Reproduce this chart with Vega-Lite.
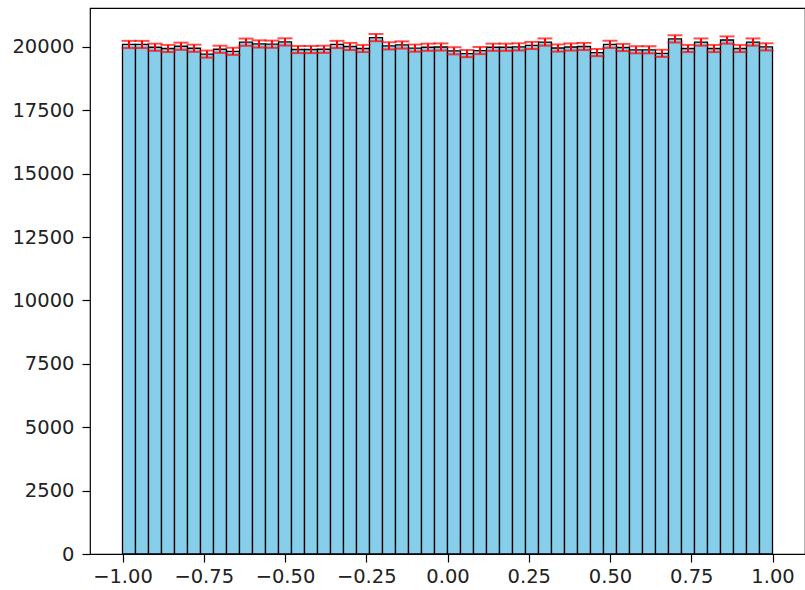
{
  "$schema": "https://vega.github.io/schema/vega-lite/v6.json",
  "width": 715,
  "height": 546,
  "autosize": {"type": "none"},
  "padding": {"left": 90, "top": 8, "right": 0, "bottom": 36},
  "background": "white",
  "config": {
    "view": {"stroke": "black", "strokeWidth": 1.2},
    "axis": {
      "domain": false,
      "grid": false,
      "tickColor": "black",
      "tickSize": 8,
      "tickWidth": 1.2,
      "labelFont": "DejaVu Sans",
      "labelFontSize": 19.5,
      "labelColor": "#222"
    }
  },
  "data": {
    "values": [
      {"bin_start": -1.00, "bin_end": -0.96, "center": -0.98, "count": 20100, "err": 141.8},
      {"bin_start": -0.96, "bin_end": -0.92, "center": -0.94, "count": 20100, "err": 141.8},
      {"bin_start": -0.92, "bin_end": -0.88, "center": -0.90, "count": 19990, "err": 141.4},
      {"bin_start": -0.88, "bin_end": -0.84, "center": -0.86, "count": 19940, "err": 141.2},
      {"bin_start": -0.84, "bin_end": -0.80, "center": -0.82, "count": 20030, "err": 141.5},
      {"bin_start": -0.80, "bin_end": -0.76, "center": -0.78, "count": 19950, "err": 141.2},
      {"bin_start": -0.76, "bin_end": -0.72, "center": -0.74, "count": 19720, "err": 140.4},
      {"bin_start": -0.72, "bin_end": -0.68, "center": -0.70, "count": 19910, "err": 141.1},
      {"bin_start": -0.68, "bin_end": -0.64, "center": -0.66, "count": 19830, "err": 140.8},
      {"bin_start": -0.64, "bin_end": -0.60, "center": -0.62, "count": 20190, "err": 142.1},
      {"bin_start": -0.60, "bin_end": -0.56, "center": -0.58, "count": 20120, "err": 141.8},
      {"bin_start": -0.56, "bin_end": -0.52, "center": -0.54, "count": 20110, "err": 141.8},
      {"bin_start": -0.52, "bin_end": -0.48, "center": -0.50, "count": 20200, "err": 142.1},
      {"bin_start": -0.48, "bin_end": -0.44, "center": -0.46, "count": 19900, "err": 141.1},
      {"bin_start": -0.44, "bin_end": -0.40, "center": -0.42, "count": 19900, "err": 141.1},
      {"bin_start": -0.40, "bin_end": -0.36, "center": -0.38, "count": 19910, "err": 141.1},
      {"bin_start": -0.36, "bin_end": -0.32, "center": -0.34, "count": 20100, "err": 141.8},
      {"bin_start": -0.32, "bin_end": -0.28, "center": -0.30, "count": 20020, "err": 141.5},
      {"bin_start": -0.28, "bin_end": -0.24, "center": -0.26, "count": 19940, "err": 141.2},
      {"bin_start": -0.24, "bin_end": -0.20, "center": -0.22, "count": 20370, "err": 142.7},
      {"bin_start": -0.20, "bin_end": -0.16, "center": -0.18, "count": 20045, "err": 141.6},
      {"bin_start": -0.16, "bin_end": -0.12, "center": -0.14, "count": 20080, "err": 141.7},
      {"bin_start": -0.12, "bin_end": -0.08, "center": -0.10, "count": 19955, "err": 141.3},
      {"bin_start": -0.08, "bin_end": -0.04, "center": -0.06, "count": 19990, "err": 141.4},
      {"bin_start": -0.04, "bin_end": 0.00, "center": -0.02, "count": 20000, "err": 141.4},
      {"bin_start": 0.00, "bin_end": 0.04, "center": 0.02, "count": 19850, "err": 140.9},
      {"bin_start": 0.04, "bin_end": 0.08, "center": 0.06, "count": 19740, "err": 140.5},
      {"bin_start": 0.08, "bin_end": 0.12, "center": 0.10, "count": 19860, "err": 140.9},
      {"bin_start": 0.12, "bin_end": 0.16, "center": 0.14, "count": 19990, "err": 141.4},
      {"bin_start": 0.16, "bin_end": 0.20, "center": 0.18, "count": 19990, "err": 141.4},
      {"bin_start": 0.20, "bin_end": 0.24, "center": 0.22, "count": 20005, "err": 141.4},
      {"bin_start": 0.24, "bin_end": 0.28, "center": 0.26, "count": 20060, "err": 141.6},
      {"bin_start": 0.28, "bin_end": 0.32, "center": 0.30, "count": 20195, "err": 142.1},
      {"bin_start": 0.32, "bin_end": 0.36, "center": 0.34, "count": 19960, "err": 141.3},
      {"bin_start": 0.36, "bin_end": 0.40, "center": 0.38, "count": 20000, "err": 141.4},
      {"bin_start": 0.40, "bin_end": 0.44, "center": 0.42, "count": 20020, "err": 141.5},
      {"bin_start": 0.44, "bin_end": 0.48, "center": 0.46, "count": 19780, "err": 140.6},
      {"bin_start": 0.48, "bin_end": 0.52, "center": 0.50, "count": 20105, "err": 141.8},
      {"bin_start": 0.52, "bin_end": 0.56, "center": 0.54, "count": 19980, "err": 141.4},
      {"bin_start": 0.56, "bin_end": 0.60, "center": 0.58, "count": 19890, "err": 141.0},
      {"bin_start": 0.60, "bin_end": 0.64, "center": 0.62, "count": 19890, "err": 141.0},
      {"bin_start": 0.64, "bin_end": 0.68, "center": 0.66, "count": 19750, "err": 140.5},
      {"bin_start": 0.68, "bin_end": 0.72, "center": 0.70, "count": 20320, "err": 142.5},
      {"bin_start": 0.72, "bin_end": 0.76, "center": 0.74, "count": 19940, "err": 141.2},
      {"bin_start": 0.76, "bin_end": 0.80, "center": 0.78, "count": 20195, "err": 142.1},
      {"bin_start": 0.80, "bin_end": 0.84, "center": 0.82, "count": 19940, "err": 141.2},
      {"bin_start": 0.84, "bin_end": 0.88, "center": 0.86, "count": 20275, "err": 142.4},
      {"bin_start": 0.88, "bin_end": 0.92, "center": 0.90, "count": 19940, "err": 141.2},
      {"bin_start": 0.92, "bin_end": 0.96, "center": 0.94, "count": 20195, "err": 142.1},
      {"bin_start": 0.96, "bin_end": 1.00, "center": 0.98, "count": 20005, "err": 141.4}
    ]
  },
  "layer": [
    {
      "mark": {"type": "bar", "color": "#87CEEB", "stroke": "black", "strokeWidth": 1.3, "opacity": 1},
      "encoding": {
        "x": {
          "field": "bin_start", "type": "quantitative",
          "scale": {"domain": [-1.1, 1.1], "nice": false, "zero": false},
          "axis": {"title": null, "values": [-1, -0.75, -0.5, -0.25, 0, 0.25, 0.5, 0.75, 1], "format": ".2f", "labelPadding": 5}
        },
        "x2": {"field": "bin_end"},
        "y": {
          "field": "count", "type": "quantitative",
          "scale": {"domain": [0, 21538], "nice": false},
          "axis": {"title": null, "values": [0, 2500, 5000, 7500, 10000, 12500, 15000, 17500, 20000], "format": "d", "labelPadding": 8}
        },
        "y2": {"datum": 0}
      }
    },
    {
      "mark": {
        "type": "errorbar",
        "color": "red",
        "thickness": 2,
        "ticks": {"size": 15, "thickness": 2, "color": "red"}
      },
      "encoding": {
        "x": {"field": "center", "type": "quantitative"},
        "y": {"field": "count", "type": "quantitative"},
        "yError": {"field": "err"}
      }
    }
  ]
}
